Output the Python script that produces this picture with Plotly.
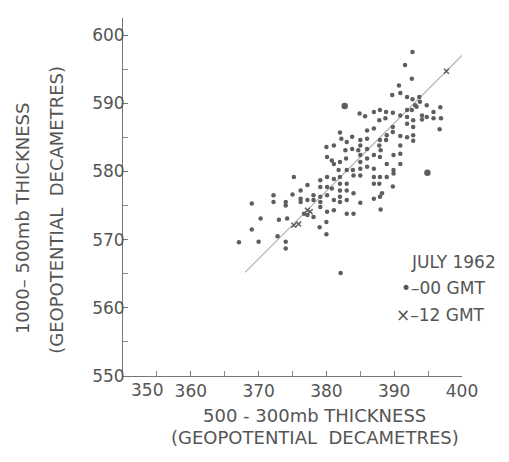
import plotly.graph_objects as go

# 00 GMT observations (500-300 mb thickness, 1000-500 mb thickness), dam
gmt00_x = [392.7, 391.6, 392.6, 390.7, 389.7, 390.9, 391.9, 392.7, 393.7, 393.8,
           393.1, 391.9, 392.6, 393.3, 394.8, 395.8, 396.8, 396.9, 395.8, 394.8,
           394.1, 394.1, 392.8, 391.9, 391.9, 392.8, 392.8, 392.8, 391.9, 390.9,
           390.9, 389.8, 388.8, 387.9, 387.8, 388.7, 387.0, 385.7, 384.9, 396.7,
           389.8, 389.8, 388.9, 388.8, 387.9, 387.8, 388.0, 387.9, 387.0, 386.0,
           386.0, 385.0, 385.0, 384.7, 385.0, 385.0, 385.0, 385.0, 383.8, 383.8,
           383.0, 382.0, 382.2, 382.8, 382.9, 381.1, 380.0, 380.1, 380.8, 381.1,
           382.0, 383.0, 383.9, 384.0, 386.0, 386.0, 386.0, 387.0, 387.0, 387.0,
           387.0, 387.9, 387.8, 388.9, 389.9, 389.9, 389.9, 390.9, 389.8, 390.9,
           390.9, 388.9, 381.8, 382.0, 382.0, 382.0, 383.0, 383.0, 381.1, 380.1,
           379.1, 379.1, 380.1, 380.8, 380.1, 379.1, 379.1, 379.1, 378.1, 378.1,
           377.2, 376.2, 376.2, 375.0, 375.2, 374.0, 374.0, 372.2, 372.2, 369.0,
           370.3, 374.2, 376.2, 377.2, 376.7, 381.1, 382.0, 382.0, 383.0, 384.0,
           385.0, 387.0, 387.9, 388.2, 388.0, 383.0, 384.0, 381.1, 380.1, 378.1,
           377.2, 367.1, 369.0, 370.0, 372.8, 373.0, 374.0, 374.0, 379.0, 380.0,
           380.0, 382.1]
gmt00_y = [597.5, 595.6, 593.6, 592.6, 591.2, 591.5, 590.9, 590.6, 590.9, 590.2,
           589.7, 589.0, 589.0, 589.5, 589.7, 588.7, 589.4, 587.8, 587.8, 588.0,
           588.2, 587.6, 587.5, 588.0, 587.0, 586.5, 585.3, 584.5, 585.0, 585.2,
           588.2, 588.6, 588.7, 589.0, 587.5, 587.8, 588.7, 588.1, 588.5, 586.2,
           586.5, 585.8, 585.3, 584.6, 584.6, 583.8, 583.1, 582.1, 586.3, 586.0,
           584.8, 584.6, 583.8, 583.1, 582.4, 581.4, 580.4, 579.4, 585.1, 583.3,
           584.3, 585.7, 584.8, 583.1, 581.9, 583.8, 583.6, 582.1, 581.6, 581.1,
           581.4, 580.2, 580.2, 579.4, 583.3, 581.9, 580.7, 582.4, 580.4, 579.2,
           578.2, 579.2, 578.2, 581.1, 582.4, 580.2, 579.7, 581.1, 577.8, 583.8,
           582.6, 579.2, 580.2, 579.2, 578.2, 577.2, 578.2, 577.2, 578.9, 579.2,
           578.7, 577.7, 577.7, 577.5, 576.5, 576.3, 575.5, 574.8, 575.8, 576.5,
           578.0, 577.2, 576.0, 576.6, 579.2, 575.5, 575.0, 576.5, 575.5, 575.3,
           573.1, 573.1, 575.5, 575.8, 573.8, 575.8, 576.3, 575.5, 575.8, 576.8,
           575.4, 576.0, 576.3, 576.8, 574.4, 573.8, 573.8, 574.3, 574.1, 573.3,
           573.6, 569.6, 571.5, 569.7, 570.5, 572.9, 569.7, 568.7, 571.8, 570.8,
           572.6, 565.1]

# larger 00 GMT dots
big_x = [394.9, 382.7]
big_y = [579.8, 589.6]

# 12 GMT observations
gmt12_x = [397.7, 375.2, 375.9, 377.2, 377.6]
gmt12_y = [594.7, 572.1, 572.3, 574.3, 574.1]

# fitted line end points
line_x = [368.0, 400.0]
line_y = [565.2, 597.0]

x_ticks = [350, 360, 370, 380, 390, 400]
x_tick_labels = ["", "360", "370", "380", "390", "400"]   # 350 drawn offset below
first_x_label = "350"
y_ticks = [550, 560, 570, 580, 590, 600]

ink = "#555555"
font = "DejaVu Sans"

fig = go.Figure()
fig.add_trace(go.Scatter(x=line_x, y=line_y, mode="lines",
                         line=dict(color="#b0b0b0", width=1.2), hoverinfo="skip"))
fig.add_trace(go.Scatter(x=gmt00_x, y=gmt00_y, mode="markers",
                         marker=dict(size=4.5, color="#5e5e5e"), name="00 GMT"))
fig.add_trace(go.Scatter(x=big_x, y=big_y, mode="markers",
                         marker=dict(size=6.5, color="#5e5e5e"), name="00 GMT"))
fig.add_trace(go.Scatter(x=gmt12_x, y=gmt12_y, mode="markers",
                         marker=dict(size=5, color="#5e5e5e", symbol="x-thin",
                                     line=dict(width=1.5, color="#5e5e5e")),
                         name="12 GMT"))

axis_common = dict(showgrid=False, zeroline=False, showline=True, linecolor="#777",
                   linewidth=1, ticks="inside", ticklen=5, tickcolor="#777",
                   tickfont=dict(family=font, size=17, color=ink),
                   minor=dict(ticks="inside", ticklen=5, tickcolor="#888", dtick=5))

fig.update_xaxes(range=[350, 400], tickvals=x_ticks, ticktext=x_tick_labels,
                 **axis_common)
fig.update_yaxes(range=[550, 602.5], tickvals=y_ticks, ticklabelstandoff=-6,
                 **axis_common)

ann = []
def add(text, x, y, size, angle=0):
    ann.append(dict(text=text, x=x, y=y, xref="paper", yref="paper", showarrow=False,
                    textangle=angle, font=dict(family=font, size=size, color=ink),
                    xanchor="center", yanchor="middle"))

add("1000– 500mb THICKNESS", -0.298, 0.441, 18, -90)
add("(GEOPOTENTIAL  DECAMETRES)", -0.195, 0.464, 18, -90)
add("500 - 300mb THICKNESS", 0.566, -0.109, 18)
add("(GEOPOTENTIAL  DECAMETRES)", 0.566, -0.173, 18)
add("JULY 1962", 0.976, 0.318, 17)
add("•–00 GMT", 0.944, 0.246, 17)
add("×–12 GMT", 0.938, 0.170, 17)

ann.append(dict(text=first_x_label, x=x_ticks[0], y=0, xref="x", yref="paper",
                showarrow=False, xanchor="center", yanchor="top", xshift=24, yshift=-2,
                font=dict(family=font, size=17, color=ink)))

fig.update_layout(width=509, height=462, showlegend=False,
                  margin=dict(l=123, r=47, t=18, b=86),
                  paper_bgcolor="white", plot_bgcolor="white",
                  annotations=ann)

fig.write_html("out.html")
